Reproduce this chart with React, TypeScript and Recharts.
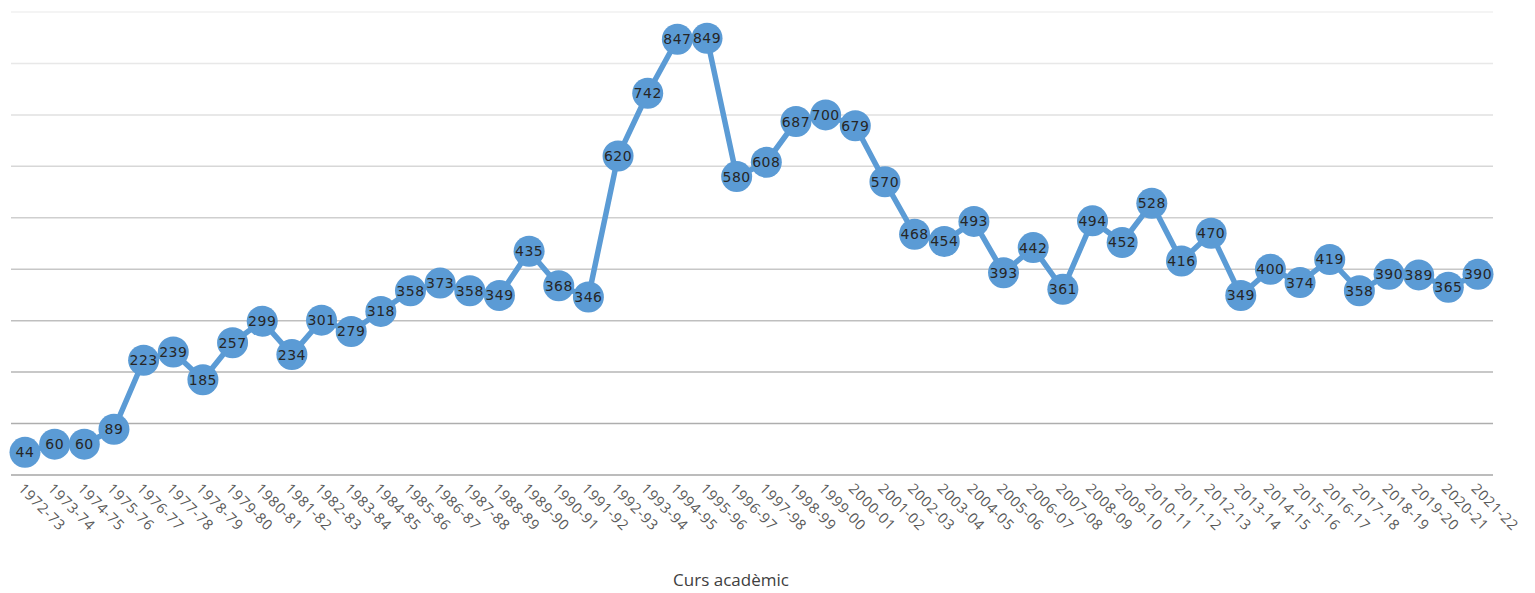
import React from 'react';
import { LineChart, Line, XAxis, YAxis, ReferenceLine, LabelList } from 'recharts';

// Academic years (x categories)
const cursos = [
  '1972-73', '1973-74', '1974-75', '1975-76', '1976-77', '1977-78', '1978-79', '1979-80', '1980-81', '1981-82',
  '1982-83', '1983-84', '1984-85', '1985-86', '1986-87', '1987-88', '1988-89', '1989-90', '1990-91', '1991-92',
  '1992-93', '1993-94', '1994-95', '1995-96', '1996-97', '1997-98', '1998-99', '1999-00', '2000-01', '2001-02',
  '2002-03', '2003-04', '2004-05', '2005-06', '2006-07', '2007-08', '2008-09', '2009-10', '2010-11', '2011-12',
  '2012-13', '2013-14', '2014-15', '2015-16', '2016-17', '2017-18', '2018-19', '2019-20', '2020-21', '2021-22',
];

// Values per year
const valors = [
  44, 60, 60, 89, 223, 239, 185, 257, 299, 234,
  301, 279, 318, 358, 373, 358, 349, 435, 368, 346,
  620, 742, 847, 849, 580, 608, 687, 700, 679, 570,
  468, 454, 493, 393, 442, 361, 494, 452, 528, 416,
  470, 349, 400, 374, 419, 358, 390, 389, 365, 390,
];

// Horizontal gridlines
const gridTicks = [100, 200, 300, 400, 500, 600, 700, 800, 900];

const data = cursos.map((c, i) => ({ curs: c, valor: valors[i] }));

const BLUE = '#5B9BD5';

// gridlines fade from darker (bottom) to lighter (top)
const gridColor = (v: number) => {
  const t = v / 900;
  const c = Math.round(166 + (240 - 166) * t);
  return `rgb(${c},${c},${c})`;
};

const YearTick = ({ x, y, payload }: any) => (
  <g transform={`translate(${x - 4},${y + 3}) rotate(45)`}>
    <text x={0} y={0} dy="0.35em" textAnchor="start" fill="#595959" fontSize={14.5} letterSpacing={0.7} fontFamily="'Open Sans', sans-serif">
      {payload.value}
    </text>
  </g>
);

export default function App() {
  return (
    <div style={{ position: 'absolute', left: 0, top: 0, width: 1535, height: 593, background: '#fff' }}>
      <LineChart width={1535} height={593} data={data} margin={{ top: 12, right: 42, left: 11, bottom: 0 }}>
        <YAxis hide domain={[0, 900]} ticks={[0, ...gridTicks]} />
        {gridTicks.map(v => (
          <ReferenceLine key={v} y={v} stroke={gridColor(v)} strokeWidth={1.5} />
        ))}
        <XAxis
          dataKey="curs"
          interval={0}
          height={118}
          padding={{ left: 14, right: 15 }}
          tickLine={false}
          axisLine={{ stroke: '#a6a6a6', strokeWidth: 1.5 }}
          tick={<YearTick />}
          label={{
            value: 'Curs acadèmic',
            position: 'insideBottom',
            offset: 7,
            dx: -21,
            fill: '#404040',
            fontSize: 17,
            fontFamily: "'Open Sans', sans-serif",
          }}
        />
        <Line
          type="linear"
          dataKey="valor"
          stroke={BLUE}
          strokeWidth={5.5}
          dot={{ r: 15.5, fill: BLUE, stroke: BLUE, strokeWidth: 0 }}
          activeDot={false}
          isAnimationActive={false}
        >
          <LabelList
            dataKey="valor"
            position="center"
            fill="#262626"
            fontSize={14}
            letterSpacing={0.5}
            fontFamily="'DejaVu Sans', sans-serif"
          />
        </Line>
      </LineChart>
    </div>
  );
}
